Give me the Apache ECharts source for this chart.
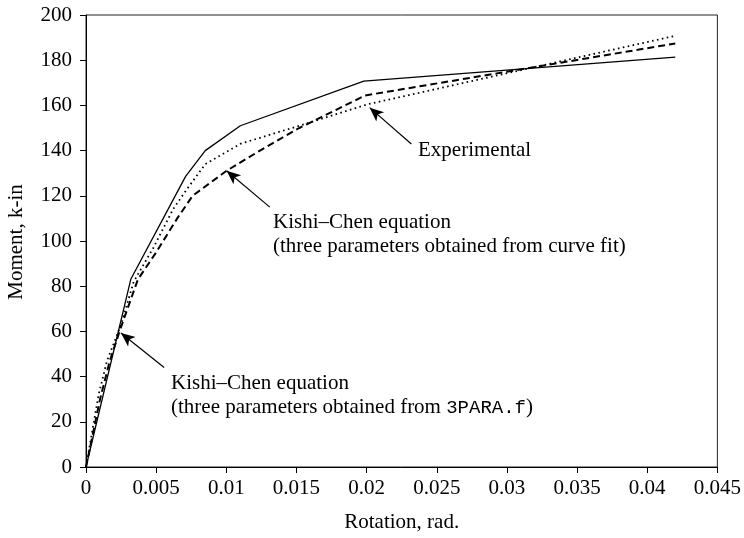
<!DOCTYPE html>
<html><head><meta charset="utf-8">
<script src="https://cdn.jsdelivr.net/npm/echarts@6/dist/echarts.min.js"></script>
<style>html,body{margin:0;padding:0;background:#fff}#c{width:744px;height:538px}</style>
</head><body><div id="c"></div>
<script>
// Experimental (solid)
const expRot    = [0, 0.0032, 0.0071, 0.0085, 0.011, 0.0198, 0.042];
const expMoment = [0, 83.2, 128.6, 140, 151, 170.7, 181.4];
// Kishi-Chen, curve-fit parameters (dashed)
const fitRot    = [0, 0.001, 0.0017, 0.0025, 0.0037, 0.005, 0.0065, 0.0076, 0.01, 0.0124, 0.0152, 0.0199, 0.042];
const fitMoment = [0, 30, 47, 62, 83, 95, 110, 120, 131, 140, 150, 164.4, 187.4];
// Kishi-Chen, 3PARA.f parameters (dotted)
const parRot    = [0, 0.0009, 0.0015, 0.0025, 0.0034, 0.0048, 0.0062, 0.0072, 0.0085, 0.011, 0.0152, 0.02, 0.042];
const parMoment = [0, 32, 47, 63, 82, 97, 114, 123, 134, 143, 151, 160.4, 190.8];
// axis ticks
const xTicks = [0, 0.005, 0.01, 0.015, 0.02, 0.025, 0.03, 0.035, 0.04, 0.045];
const yTicks = [0, 20, 40, 60, 80, 100, 120, 140, 160, 180, 200];
// annotation arrows (tail -> tip, data coords)
const arrowTails = [[0.02319, 142.9], [0.0131, 115], [0.00557, 44]];
const arrowTips  = [[0.02022, 159], [0.01002, 131.1], [0.00249, 59.3]];

const F = '"Liberation Serif", "Times New Roman", serif';
const M = '"Liberation Mono", "Courier New", monospace';
const pairs = (xs, ys) => xs.map((x, i) => [x, ys[i]]);
const fmt = v => String(+v.toFixed(3));

const chart = echarts.init(document.getElementById('c'), null, {renderer: 'canvas'});
chart.setOption({
  animation: false,
  grid: {left: 86, right: 26, top: 15, bottom: 68, show: true, borderColor: '#222', borderWidth: 1},
  xAxis: {
    type: 'value', min: xTicks[0], max: xTicks[xTicks.length - 1], interval: xTicks[1] - xTicks[0],
    axisLine: {show: true, onZero: false, lineStyle: {color: '#000', width: 1}},
    axisTick: {show: true, length: 6, lineStyle: {color: '#000'}},
    splitLine: {show: false},
    axisLabel: {color: '#000', fontFamily: F, fontSize: 21, margin: 11, formatter: fmt},
    name: 'Rotation, rad.', nameLocation: 'middle', nameGap: 45,
    nameTextStyle: {color: '#000', fontFamily: F, fontSize: 21}
  },
  yAxis: {
    type: 'value', min: yTicks[0], max: yTicks[yTicks.length - 1], interval: yTicks[1] - yTicks[0],
    axisLine: {show: true, lineStyle: {color: '#000', width: 1}},
    axisTick: {show: true, length: 6, lineStyle: {color: '#000'}},
    splitLine: {show: false},
    axisLabel: {color: '#000', fontFamily: F, fontSize: 21, margin: 14}
  },
  graphic: [
    {type: 'text', x: 16, y: 242, rotation: Math.PI / 2,
     style: {text: 'Moment, k-in', font: '21px ' + F, fill: '#000', align: 'center', verticalAlign: 'middle'}},
    {type: 'text', left: 418, top: 140,
     style: {text: 'Experimental', font: '21px ' + F, fill: '#000'}},
    {type: 'text', left: 273, top: 210,
     style: {text: 'Kishi\u2013Chen equation\n(three parameters obtained from curve fit)', font: '21px ' + F, fill: '#000', lineHeight: 24}},
    {type: 'text', left: 171, top: 373,
     style: {text: '{s|Kishi\u2013Chen equation}\n{s|(three parameters obtained from }{m|3PARA.f}{s|)}',
       rich: {s: {fontFamily: F, fontSize: 21, lineHeight: 24, fill: '#000', color: '#000'},
              m: {fontFamily: M, fontSize: 19, lineHeight: 24, fill: '#000', color: '#000'}}}}
  ],
  series: [
    {type: 'line', name: 'Experimental', data: pairs(expRot, expMoment), symbol: 'none', smooth: false,
     lineStyle: {color: '#000', width: 1.3, type: 'solid'},
     markLine: {silent: true, animation: false, symbol: ['none', 'arrow'], symbolSize: [9, 14],
       label: {show: false}, lineStyle: {color: '#000', width: 1.2, type: 'solid'},
       data: arrowTails.map((t, i) => [{coord: t}, {coord: arrowTips[i]}])}},
    {type: 'line', name: 'Kishi-Chen (curve fit)', data: pairs(fitRot, fitMoment), symbol: 'none', smooth: false,
     lineStyle: {color: '#000', width: 2, type: [7, 4]}},
    {type: 'line', name: 'Kishi-Chen (3PARA.f)', data: pairs(parRot, parMoment), symbol: 'none', smooth: false,
     lineStyle: {color: '#000', width: 1.8, type: [1.6, 3.4]}}
  ]
});
</script>
</body></html>
